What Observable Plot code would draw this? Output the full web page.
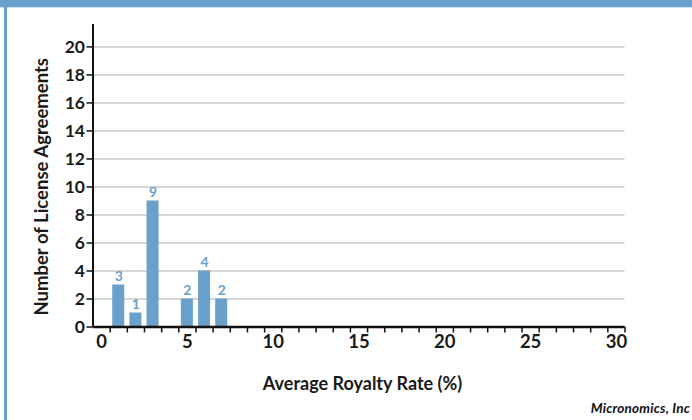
<!DOCTYPE html>
<html>
<head>
<meta charset="utf-8">
<script src="https://cdn.jsdelivr.net/npm/d3@7"></script>
<script src="https://cdn.jsdelivr.net/npm/@observablehq/plot@0.6"></script>
<style>
  html, body { margin: 0; padding: 0; background: #fff; }
  #wrap { position: relative; width: 692px; height: 420px; overflow: hidden; font-family: Lato, "DejaVu Sans", sans-serif; }
  #topbar { position: absolute; left: 0; top: 0; width: 692px; height: 7px; background: #6aa1cc; }
  #topline { position: absolute; left: 0; top: 7px; width: 692px; height: 1px; background: #cfe0ee; }
  #leftbar { position: absolute; left: 4px; top: 7px; width: 2.5px; height: 413px; background: #6aa1cc; }
  #chart { position: absolute; left: 0; top: 0; }
  #caption { position: absolute; right: 2px; top: 400px; font: italic 700 13.5px Lato, sans-serif; color: #111; letter-spacing: 0.2px; }
</style>
</head>
<body>
<div id="wrap">
  <div id="chart"></div>
  <div id="topbar"></div>
  <div id="topline"></div>
  <div id="leftbar"></div>
  <div id="caption">Micronomics, Inc</div>
</div>
<script>
// Data
const rates = [1, 2, 3, 5, 6, 7];           // Average royalty rate (%)
const counts = [3, 1, 9, 2, 4, 2];          // Number of license agreements
const yTicks = [0, 2, 4, 6, 8, 10, 12, 14, 16, 18, 20];
const xLabelTicks = [0, 5, 10, 15, 20, 25, 30];
const xMinorTicks = d3.range(0.5, 31, 1);
const xTitle = "Average Royalty Rate (%)";
const yTitle = "Number of License Agreements";

const data = rates.map((r, i) => ({rate: r, count: counts[i]}));
const barColor = "#6aa1cc";

const chart = Plot.plot({
  width: 692,
  height: 395,
  marginLeft: 92.5,
  marginRight: 67.5,
  marginTop: 24,
  marginBottom: 68.5,
  style: {fontFamily: "Lato, sans-serif", color: "#1a1a1a", background: "transparent"},
  x: {type: "linear", domain: [-0.5, 30.5]},
  y: {type: "linear", domain: [0, 21.6]},
  marks: [
    Plot.gridY(yTicks.filter(d => d > 0), {stroke: "#c9c9c9", strokeOpacity: 1, strokeWidth: 1.5}),
    Plot.rectY(data, {x1: d => d.rate - 0.35, x2: d => d.rate + 0.35, y1: 0, y2: "count", fill: barColor}),
    Plot.text(data, {x: "rate", y: "count", text: d => String(d.count), dy: -8, fill: barColor, fontSize: 14, fontWeight: "bold"}),
    Plot.axisY({ticks: yTicks, tickSize: 6, tickPadding: 2, fontSize: 17.5, fontWeight: "bold", label: null, stroke: "#111", strokeWidth: 1.5}),
    Plot.axisX({ticks: xMinorTicks, tickSize: 6, tickFormat: () => "", label: null, stroke: "#111", strokeWidth: 1.5}),
    Plot.axisX({ticks: xLabelTicks, tickSize: 0, tickPadding: 8, fontSize: 18.5, fontWeight: "bold", label: null}),
    Plot.ruleX([-0.5], {stroke: "#111", strokeWidth: 2}),
    Plot.ruleY([0], {stroke: "#111", strokeWidth: 2.5}),
    Plot.text([xTitle], {frameAnchor: "bottom", lineAnchor: "middle", textAnchor: "middle", dy: 57, dx: 3.5, fontSize: 18, fontWeight: "bold", fill: "#1a1a1a"}),
    Plot.text([yTitle], {frameAnchor: "left", lineAnchor: "middle", textAnchor: "middle", rotate: -90, dx: -50.5, dy: 11, fontSize: 18.5, fontWeight: "bold", fill: "#1a1a1a"})
  ]
});
document.getElementById("chart").appendChild(chart);
</script>
</body>
</html>
